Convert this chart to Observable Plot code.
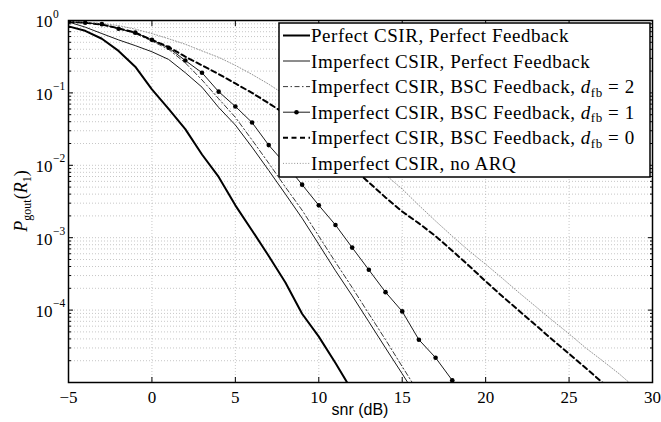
<!DOCTYPE html>
<html><head><meta charset="utf-8">
<script src="https://cdn.jsdelivr.net/npm/d3@7"></script>
<script src="https://cdn.jsdelivr.net/npm/@observablehq/plot@0.6"></script>
<style>
body{margin:0;background:#fff}
#chart{width:661px;height:422px}
#chart svg text, #chart svg tspan{font-family:'Liberation Serif','Times New Roman',Times,serif !important}
#chart svg text.sanslabel{font-family:'Liberation Sans',Arial,Helvetica,sans-serif !important}
</style>
</head><body><div id="chart"></div>
<script>
// ---- data ----
const snrPerfect = [-5,-4,-3,-2,-1,0,1,2,3,4,5,6,7,8,9,10,11,11.7];
const pPerfect   = [0.83,0.72,0.56,0.38,0.23,0.112,0.060,0.0316,0.0141,0.0069,0.0028,0.00126,5.6e-4,2.4e-4,8.9e-5,4.3e-5,1.86e-5,1.0e-5];

const snrImpPF = [-5,-4,-3,-2,-1,0,1,2,3,4,5,6,7,8,9,10,11,12,13,14,15,15.33];
const pImpPF   = [0.955,0.81,0.66,0.54,0.45,0.37,0.29,0.19,0.12,0.063,0.036,0.0178,0.0085,0.0040,0.00186,8.1e-4,3.5e-4,1.58e-4,6.9e-5,3.0e-5,1.32e-5,1.0e-5];

const snrBsc2 = [-5,-4,-3,-2,-1,0,1,2,3,4,5,6,7,8,9,10,11,12,13,14,15,15.6];
const pBsc2   = [0.96,0.93,0.88,0.78,0.66,0.52,0.40,0.26,0.151,0.083,0.046,0.0224,0.0107,0.0050,0.0024,0.00105,4.6e-4,2.05e-4,8.9e-5,3.9e-5,1.66e-5,1.0e-5];

const snrBsc1 = [-5,-4,-3,-2,-1,0,1,2,3,4,5,6,7,8,9,10,11,12,13,14,15,16,17,18];
const pBsc1   = [0.96,0.93,0.89,0.77,0.68,0.54,0.42,0.28,0.19,0.104,0.065,0.039,0.019,0.0104,0.0054,0.0028,0.0015,7.3e-4,3.6e-4,1.77e-4,9.6e-5,3.9e-5,2.2e-5,1.07e-5];

const snrBsc0 = [-5,-4,-3,-2,-1,0,1,2,3,4,5,6,7,8,9,10,11,12,13,14,15,16,17,18,19,20,21,22,23,24,25,26,27];
const pBsc0   = [0.96,0.93,0.88,0.78,0.68,0.54,0.43,0.316,0.24,0.182,0.135,0.100,0.072,0.051,0.035,0.023,0.0148,0.0093,0.0058,0.0036,0.0023,0.00158,0.00105,6.6e-4,4.1e-4,2.5e-4,1.55e-4,9.8e-5,6.2e-5,3.9e-5,2.5e-5,1.58e-5,1.0e-5];

const snrNoArq = [-5,-4,-3,-2,-1,0,1,2,3,4,5,6,7,8,9,10,11,12,13,14,15,16,17,18,19,20,21,22,23,24,25,26,27,28,28.6];
const pNoArq   = [0.98,0.955,0.91,0.85,0.76,0.66,0.56,0.47,0.38,0.31,0.24,0.18,0.132,0.093,0.065,0.044,0.028,0.018,0.0117,0.0074,0.0047,0.0028,0.0017,0.00105,6.6e-4,4.3e-4,2.75e-4,1.74e-4,1.12e-4,7.2e-5,4.7e-5,3.0e-5,2.0e-5,1.32e-5,1.0e-5];

const xTicks = [-5,0,5,10,15,20,25,30];
const yDecades = [1,0.1,0.01,0.001,1e-4];
const yExpLabels = ["0","\u22121","\u22122","\u22123","\u22124"];
const legendLabels = [
  "Perfect CSIR, Perfect Feedback",
  "Imperfect CSIR, Perfect Feedback",
  "Imperfect CSIR, BSC Feedback, ",
  "Imperfect CSIR, BSC Feedback, ",
  "Imperfect CSIR, BSC Feedback, ",
  "Imperfect CSIR, no ARQ"
];
const legendDfb = [null, null, "2", "1", "0", null];

// ---- build ----
const zip = (xs, ys) => xs.map((x, i) => ({x, y: ys[i]}));
const minorTicks = [];
for (let e = -5; e < 0; e++) for (let m = 2; m <= 9; m++) minorTicks.push(m * Math.pow(10, e));

const styles = [
  {stroke: "#000", strokeWidth: 2},
  {stroke: "#000", strokeWidth: 0.9},
  {stroke: "#222", strokeWidth: 0.9, strokeDasharray: "5,2.5,1.5,2.5"},
  {stroke: "#000", strokeWidth: 0.9},
  {stroke: "#000", strokeWidth: 2, strokeDasharray: "5,3.5"},
  {stroke: "#888", strokeWidth: 0.9, strokeDasharray: "1,1.8"}
];
const series = [
  zip(snrPerfect, pPerfect), zip(snrImpPF, pImpPF), zip(snrBsc2, pBsc2),
  zip(snrBsc1, pBsc1), zip(snrBsc0, pBsc0), zip(snrNoArq, pNoArq)
];

const gridStyle = {stroke: "#b4b4b4", strokeOpacity: 1, strokeDasharray: "1,2", strokeWidth: 0.75};

const plot = Plot.plot({
  width: 661, height: 422,
  marginLeft: 68, marginRight: 9, marginTop: 20, marginBottom: 40,
  x: {domain: [-5, 30], label: null},
  y: {type: "log", domain: [1e-5, 1], label: null},
  marks: [
    Plot.gridX(xTicks, gridStyle),
    Plot.gridY(yDecades, gridStyle),
    Plot.gridY(minorTicks, gridStyle),
    ...series.map((d, i) => Plot.line(d, {x: "x", y: "y", clip: true, ...styles[i]})),
    Plot.dot(series[3], {x: "x", y: "y", r: 2.3, fill: "#000", stroke: "none", clip: true}),
    Plot.frame({stroke: "#000", strokeWidth: 1.5}),
    Plot.axisX(xTicks, {anchor: "bottom", tickSize: -5, tickPadding: 13, label: null, fontSize: 17, fill: "#000"}),
    Plot.axisX(xTicks, {anchor: "top", tickSize: -5, tickFormat: () => "", label: null}),
    Plot.axisY(yDecades, {anchor: "left", tickSize: -5, tickFormat: () => "", label: null}),
    Plot.axisY(yDecades, {anchor: "right", tickSize: -5, tickFormat: () => "", label: null}),
    Plot.axisY(minorTicks, {anchor: "left", tickSize: -3, tickFormat: () => "", label: null}),
    Plot.axisY(minorTicks, {anchor: "right", tickSize: -3, tickFormat: () => "", label: null}),
    Plot.text(yDecades, {x: () => -5, y: d => d, text: () => "10", textAnchor: "start", dx: -33, dy: 1.5, fontSize: 17, fill: "#000"}),
    Plot.text(yDecades, {x: () => -5, y: d => d, text: (d, i) => yExpLabels[i], textAnchor: "start", dx: -15.5, dy: -6.5, fontSize: 11.5, fill: "#000"})
  ]
});
document.getElementById("chart").appendChild(plot);

// ---- axis titles and legend ----
const svg = d3.select(plot);

// x label
svg.append("text").attr("class", "sanslabel").attr("x", 360).attr("y", 415)
  .attr("text-anchor", "middle").attr("font-size", 16).attr("fill", "#000").text("snr (dB)");

// y label
const yl = svg.append("text").attr("transform", "translate(27,201) rotate(-90)")
  .attr("text-anchor", "middle").attr("font-size", 18).attr("fill", "#000");
yl.append("tspan").attr("font-style", "italic").text("P");
yl.append("tspan").attr("font-size", 12).attr("dy", 4).text("gout");
yl.append("tspan").attr("dy", -4).text("(");
yl.append("tspan").attr("font-style", "italic").text("R");
yl.append("tspan").attr("font-size", 12).attr("dy", 4).text("1");
yl.append("tspan").attr("dy", -4).text(")");

// legend
const lg = svg.append("g");
lg.append("rect").attr("x", 279).attr("y", 23).attr("width", 371).attr("height", 154)
  .attr("fill", "#fff").attr("stroke", "#000").attr("stroke-width", 1.5);
const rowY = [35.5, 61, 86.6, 112.2, 137.8, 163.4];
legendLabels.forEach((lab, i) => {
  const y = rowY[i];
  const s = styles[i];
  lg.append("line").attr("x1", 283).attr("x2", 310).attr("y1", y).attr("y2", y)
    .attr("stroke", s.stroke).attr("stroke-width", s.strokeWidth)
    .attr("stroke-dasharray", s.strokeDasharray || null);
  if (i === 3) lg.append("circle").attr("cx", 296.5).attr("cy", y).attr("r", 2.3).attr("fill", "#000");
  const t = lg.append("text").attr("x", 311).attr("y", y + 6.5).attr("text-anchor", "start")
    .attr("font-size", 19).attr("letter-spacing", 0.55).attr("fill", "#000");
  t.append("tspan").text(lab);
  if (legendDfb[i] !== null) {
    t.append("tspan").attr("font-style", "italic").text("d");
    t.append("tspan").attr("font-size", 13).attr("dy", 3.5).text("fb");
    t.append("tspan").attr("dy", -3.5).text(" = " + legendDfb[i]);
  }
});
</script>
</body></html>
